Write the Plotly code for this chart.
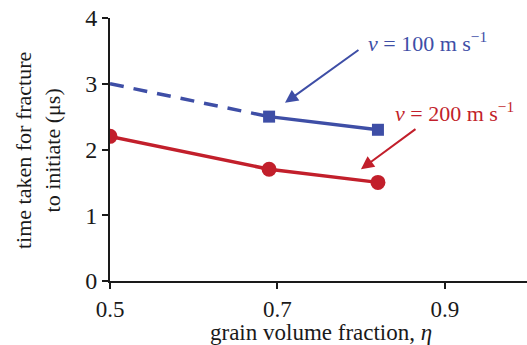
import plotly.graph_objects as go

# data
eta_100_dash = [0.5, 0.69]
t_100_dash = [3.0, 2.5]
eta_100 = [0.69, 0.82]
t_100 = [2.5, 2.3]
eta_200 = [0.5, 0.69, 0.82]
t_200 = [2.2, 1.7, 1.5]
x_ticks = [0.5, 0.7, 0.9]
y_ticks = [0, 1, 2, 3, 4]

BLUE = "#3e4ea6"
RED = "#c21f2b"
INK = "#1a1a1a"
FONT = "Liberation Serif"

fig = go.Figure()
fig.add_trace(go.Scatter(x=eta_100_dash, y=t_100_dash, mode="lines",
                         line=dict(color=BLUE, width=3.5, dash="14px,10px"),
                         showlegend=False, hoverinfo="skip"))
fig.add_trace(go.Scatter(x=eta_100, y=t_100, mode="lines+markers",
                         line=dict(color=BLUE, width=3.5),
                         marker=dict(symbol="square", size=12, color=BLUE),
                         showlegend=False))
fig.add_trace(go.Scatter(x=eta_200, y=t_200, mode="lines+markers",
                         line=dict(color=RED, width=3.5),
                         marker=dict(symbol="circle", size=15, color=RED),
                         showlegend=False))

fig.add_annotation(x=0.709, y=2.71, ax=0.7985, ay=3.53, xref="x", yref="y",
                   axref="x", ayref="y", showarrow=True, arrowhead=2,
                   arrowsize=1.3, arrowwidth=2, arrowcolor=BLUE, text="")
fig.add_annotation(x=0.806, y=3.635, xref="x", yref="y", showarrow=False,
                   text="<i>v</i> = 100 m s<sup>\u22121</sup>",
                   xanchor="left", yanchor="middle",
                   font=dict(family=FONT, size=22, color=BLUE))
fig.add_annotation(x=0.7997, y=1.70, ax=0.8666, ay=2.327, xref="x", yref="y",
                   axref="x", ayref="y", showarrow=True, arrowhead=2,
                   arrowsize=1.3, arrowwidth=2, arrowcolor=RED, text="")
fig.add_annotation(x=0.838, y=2.57, xref="x", yref="y", showarrow=False,
                   text="<i>v</i> = 200 m s<sup>\u22121</sup>",
                   xanchor="left", yanchor="middle",
                   font=dict(family=FONT, size=22, color=RED))

# axis titles as positioned text
fig.add_annotation(x=-0.1727, y=0.498, xref="paper", yref="paper", showarrow=False,
                   text="time taken for fracture<br>to initiate (\u03bcs)",
                   textangle=-90, xanchor="center", yanchor="middle",
                   font=dict(family=FONT, size=22, color=INK))
fig.add_annotation(x=0.506, y=-0.197, xref="paper", yref="paper", showarrow=False,
                   text="grain volume fraction, <i>\u03b7</i>",
                   xanchor="center", yanchor="middle",
                   font=dict(family=FONT, size=23, color=INK))

fig.update_layout(
    width=527, height=345,
    margin=dict(l=110, r=0, t=18, b=64),
    paper_bgcolor="white", plot_bgcolor="white",
    font=dict(family=FONT, color=INK),
    xaxis=dict(range=[0.5, 0.998], tickvals=x_ticks, ticktext=["0.5", "0.7", "0.9"],
               showgrid=False, zeroline=False, showline=True, linecolor=INK,
               linewidth=2, ticks="outside", ticklen=6, tickwidth=1.5,
               tickcolor=INK, tickfont=dict(size=23)),
    yaxis=dict(range=[0, 4], tickvals=y_ticks, showgrid=False, zeroline=False,
               showline=True, linecolor=INK, linewidth=2, ticks="outside",
               ticklen=6, tickwidth=1.5, tickcolor=INK, tickfont=dict(size=24)),
)

fig.write_html("out.html")
